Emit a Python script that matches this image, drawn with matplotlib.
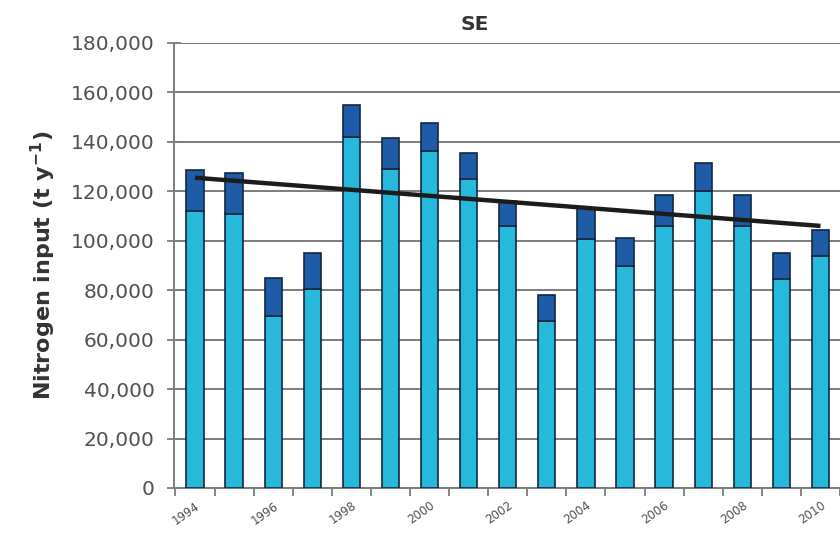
import numpy as np
import matplotlib.pyplot as plt
from matplotlib.ticker import FuncFormatter

# Nitrogen input per year (t/y)
years = list(range(1994, 2011))
lower = [112000, 111000, 69600, 80500, 142100, 129200, 136300, 125100, 106000,
         67700, 100600, 89900, 106100, 120100, 106100, 84400, 93700]
total = [128600, 127500, 85000, 95200, 155000, 141700, 147800, 135600, 116200,
         78100, 113400, 101200, 118500, 131600, 118500, 95200, 104400]
upper = [t - l for t, l in zip(total, lower)]

# trend line end values (1994, 2010)
trend_years = [1994, 2010]
trend_vals = [125500, 106000]

LIGHT = "#27b9dc"
DARK = "#1f5ca8"
EDGE = "#13283f"
GRID = "#7c7c7c"
TEXT = "#505050"

plt.rcParams["font.family"] = ["DejaVu Sans"]

fig = plt.figure(figsize=(8.4, 5.4), dpi=100)
ax = fig.add_axes([0.207, 0.0963, 0.793, 0.8241])

x = np.arange(len(years))
ax.bar(x, lower, width=0.44, color=LIGHT, edgecolor=EDGE, linewidth=1.2, zorder=3)
ax.bar(x, upper, bottom=lower, width=0.44, color=DARK, edgecolor=EDGE,
       linewidth=1.2, zorder=3)

tx = [years.index(y) for y in trend_years]
ax.plot(tx, trend_vals, color="#1c1c1c", linewidth=3.2, zorder=4,
        solid_capstyle="butt")

ax.set_xlim(-0.54, len(years) - 0.5)
ax.set_ylim(0, 180000)
ax.set_yticks(np.arange(0, 180001, 20000))
ax.yaxis.set_major_formatter(FuncFormatter(lambda v, p: f"{int(v):,}"))
ax.yaxis.grid(True, color=GRID, linewidth=1.4, zorder=0)
ax.set_axisbelow(True)

# ticks between categories, labels on even years
ax.set_xticks(np.arange(-0.5, len(years), 1.0))
ax.set_xticklabels([])
even = [i for i, y in enumerate(years) if y % 2 == 0]
ax.set_xticks(even, minor=True)
ax.set_xticklabels([str(years[i]) for i in even], minor=True, rotation=35,
                   fontsize=8.5, color=TEXT, ha="right", va="top",
                   rotation_mode="anchor")
ax.tick_params(axis="x", which="major", length=6, color=GRID, width=1.3)
ax.tick_params(axis="x", which="minor", length=0, pad=8)
ax.tick_params(axis="y", direction="inout", length=10, color=GRID, width=1.3,
               labelsize=14.5, labelcolor=TEXT, pad=9)

for s in ["top", "right"]:
    ax.spines[s].set_visible(False)
for s in ["left", "bottom"]:
    ax.spines[s].set_color(GRID)
    ax.spines[s].set_linewidth(1.4)

ax.set_title("SE", x=0.452, fontsize=14.5, fontweight="bold", color="#333333", pad=9)
ax.set_ylabel("Nitrogen input (t y$^{\\mathbf{-1}}$)", fontsize=16,
              fontweight="bold", color="#333333", labelpad=9)

fig.savefig("out.png", dpi=100)
